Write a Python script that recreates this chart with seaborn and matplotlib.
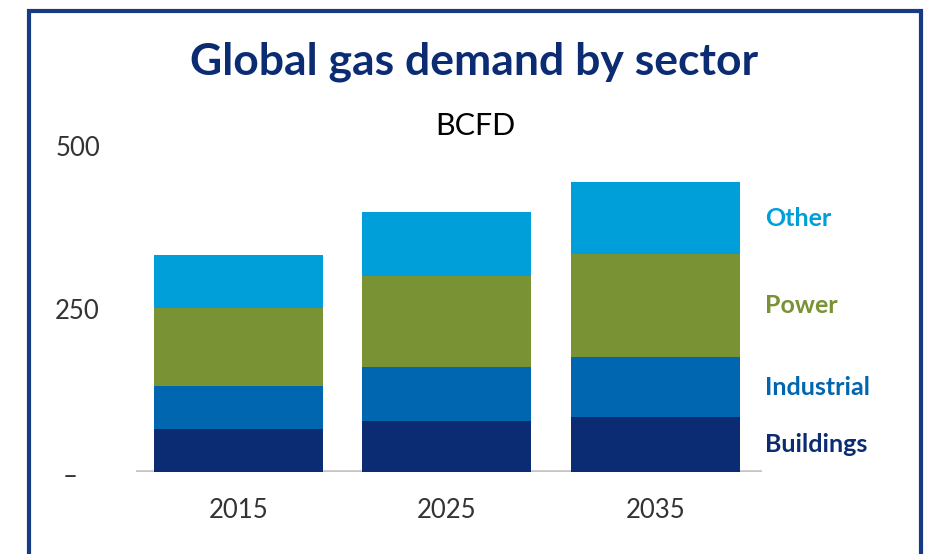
import matplotlib
matplotlib.use("Agg")
import matplotlib.pyplot as plt
import matplotlib.transforms as mtransforms
from matplotlib.patches import Rectangle
import numpy as np
import pandas as pd
import seaborn as sns

# Gas demand by sector, BCFD
years = ["2015", "2025", "2035"]
sectors = ["Buildings", "Industrial", "Power", "Other"]
buildings = [66, 78, 84]
industrial = [66, 83, 92]
power = [120, 140, 158]
other = [81, 98, 111]
sector_colors = ["#0b2c72", "#0066b0", "#789234", "#009fda"]
ytick_values = [0, 250, 500]
ytick_labels = ["–", "250", "500"]

sns.set_theme(style="white")
plt.rcParams["font.family"] = ["Lato", "DejaVu Sans"]

df = pd.DataFrame({"year": years, "Buildings": buildings, "Industrial": industrial,
                   "Power": power, "Other": other})
cum = df[sectors].cumsum(axis=1)

W, H = 932, 554
fig = plt.figure(figsize=(W / 100, H / 100), dpi=100)
ax = fig.add_axes([136 / W, (H - 472) / H, (762 - 136) / W, (472 - 146) / H])

# stacked bars: draw cumulative totals from the top segment down
for sector, color in zip(reversed(sectors), reversed(sector_colors)):
    sns.barplot(x=df["year"], y=cum[sector], color=color, saturation=1,
                width=0.81, ax=ax, zorder=3, linewidth=0)

ax.axhline(0, color="#c4c4c4", lw=2.6, zorder=2)
ax.set_xlim(-0.49, 2.51)
ax.set_ylim(0, 500)
sns.despine(ax=ax, left=True, bottom=True)
ax.set_xlabel("")
ax.set_ylabel("")
ax.set_yticks(ytick_values)
ax.set_yticklabels(ytick_labels)
ax.tick_params(axis="y", length=0, pad=26, labelsize=18.5, labelcolor="#333333")
ax.tick_params(axis="x", length=0, pad=19, labelsize=18.5, labelcolor="#333333")
ylabs = ax.get_yticklabels()
ylabs[0].set_transform(ylabs[0].get_transform() +
                       mtransforms.ScaledTranslation(-0.22, -0.02, fig.dpi_scale_trans))

# sector labels beside the last bar
last = df.index[-1]
bottoms = [0] + list(cum.loc[last, sectors[:-1]])
for sector, color, b in zip(sectors, sector_colors, bottoms):
    mid = b + df.loc[last, sector] / 2
    ax.text(2.525, mid, sector, color=color, fontsize=18, fontweight="bold",
            ha="left", va="center", clip_on=False)

fig.text(474.5 / W, 1 - 75 / H, "Global gas demand by sector", ha="center",
         va="baseline", fontsize=32, fontweight="bold", color="#0b2c72")
fig.text(475 / W, 1 - 135 / H, "BCFD", ha="center", va="baseline",
         fontsize=22, color="#000000")

fig.add_artist(Rectangle((29 / W, -0.1), (921 - 29) / W, 1.1 - 11 / H,
                         transform=fig.transFigure, fill=False,
                         edgecolor="#173a82", linewidth=3))

fig.savefig("out.png", dpi=100)
